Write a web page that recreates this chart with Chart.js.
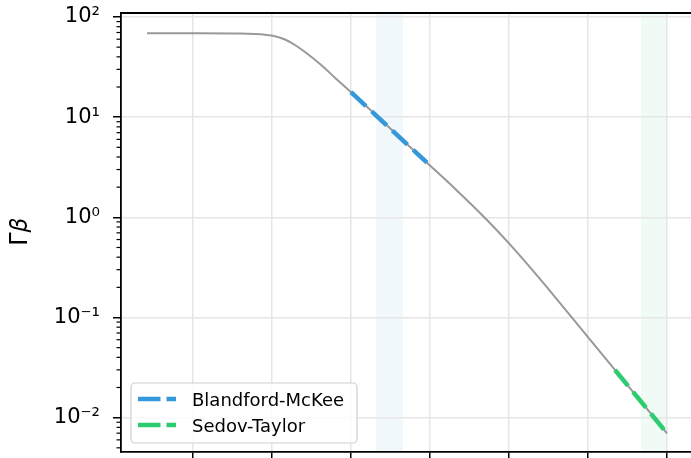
<!DOCTYPE html>
<html>
<head>
<meta charset="utf-8">
<script src="https://cdn.jsdelivr.net/npm/chart.js@4.4.0/dist/chart.umd.min.js"></script>
<style>
  html, body { margin: 0; padding: 0; background: #fff; overflow: hidden; }
</style>
</head>
<body>
<canvas id="gammaBetaChart" width="691" height="458"></canvas>
<script>
// Γβ 主曲线（横轴刻度标签在原图中被裁掉）
const curveX = [0.418, 1.089, 1.595, 1.785, 1.911, 2.038, 2.165, 2.291, 2.418, 2.608, 2.797, 3.0, 3.494, 3.962, 4.3, 4.7, 5.0, 5.3, 5.5, 6.0, 6.5, 7.0];
const curveY = [68.9, 68.9, 68.4, 67.5, 66.4, 64.3, 59.6, 52.5, 44.7, 33.9, 24.8, 17.8, 7.76, 3.51, 1.986, 0.979, 0.550, 0.296, 0.192, 0.0637, 0.0211, 0.00698];

// Blandford-McKee 段
const bmX = [3.0, 3.48, 3.962];
const bmY = [17.8, 7.9, 3.51];

// Sedov-Taylor 段
const stX = [6.342, 6.658, 6.962];
const stY = [0.0299, 0.0149, 0.00759];

// 阴影区间
const bmBand = [3.316, 3.658];
const stBand = [6.671, 6.987];

// 刻度
const xTicks = [1, 2, 3, 4, 5, 6, 7];
const yMajorTicks = [0.01, 0.1, 1, 10, 100];
const yTickLabels = ['10⁻²', '10⁻¹', '10⁰', '10¹', '10²'];
const legendLabels = ['Blandford-McKee', 'Sedov-Taylor'];

const toPoints = (xs, ys) => xs.map((x, i) => ({ x: x, y: ys[i] }));

Chart.defaults.font.family = 'DejaVu Sans';
Chart.defaults.color = '#000';

const decorPlugin = {
  id: 'decor',
  beforeDraw(chart) {
    const { ctx, chartArea: a, scales: { x } } = chart;
    ctx.save();
    ctx.fillStyle = '#fff';
    ctx.fillRect(0, 0, chart.width, chart.height);
    [[bmBand, 'rgba(52,152,219,0.07)'], [stBand, 'rgba(46,204,113,0.07)']].forEach(([b, c]) => {
      const x0 = x.getPixelForValue(b[0]);
      const x1 = x.getPixelForValue(b[1]);
      ctx.fillStyle = c;
      ctx.fillRect(x0, a.top, x1 - x0, a.bottom - a.top);
    });
    ctx.restore();
  },
  afterDraw(chart) {
    const { ctx, chartArea: a, scales: { y } } = chart;
    ctx.save();
    // 上边框
    ctx.strokeStyle = '#000';
    ctx.lineWidth = 1.8;
    ctx.beginPath();
    ctx.moveTo(a.left - 0.9, a.top);
    ctx.lineTo(a.right, a.top);
    ctx.stroke();

    // y 轴次刻度
    ctx.lineWidth = 1.2;
    [0.001].concat(yMajorTicks).forEach(m => {
      for (let k = 2; k <= 9; k++) {
        const v = k * m;
        if (v < y.min || v > y.max) continue;
        const py = y.getPixelForValue(v);
        ctx.beginPath();
        ctx.moveTo(a.left - 4.5, py);
        ctx.lineTo(a.left, py);
        ctx.stroke();
      }
    });

    // 图例
    const lx = a.left + 10, ly = a.bottom - 69, lw = 226, lh = 60;
    ctx.fillStyle = 'rgba(255,255,255,0.8)';
    ctx.strokeStyle = '#d0d0d0';
    ctx.lineWidth = 1.2;
    ctx.beginPath();
    ctx.roundRect(lx, ly, lw, lh, 4);
    ctx.fill();
    ctx.stroke();
    legendLabels.forEach((label, i) => {
      const ds = chart.data.datasets[i];
      const hy = ly + 16 + i * 26;
      ctx.strokeStyle = ds.borderColor;
      ctx.lineWidth = 4.5;
      ctx.setLineDash([22.5, 6]);
      ctx.beginPath();
      ctx.moveTo(lx + 7, hy);
      ctx.lineTo(lx + 45, hy);
      ctx.stroke();
      ctx.setLineDash([]);
      ctx.fillStyle = '#000';
      ctx.font = '18px "DejaVu Sans"';
      ctx.textBaseline = 'alphabetic';
      ctx.fillText(label, lx + 61, hy + 6.5);
    });
    ctx.restore();
  }
};

new Chart(document.getElementById('gammaBetaChart'), {
  type: 'line',
  data: {
    datasets: [
      {
        label: legendLabels[0],
        data: toPoints(bmX, bmY),
        borderColor: '#3498db',
        borderWidth: 4.5,
        borderDash: [20.5, 7.8],
        pointRadius: 0,
        fill: false
      },
      {
        label: legendLabels[1],
        data: toPoints(stX, stY),
        borderColor: '#2ecc71',
        borderWidth: 4.5,
        borderDash: [20.5, 7.8],
        pointRadius: 0,
        fill: false
      },
      {
        label: 'Γβ',
        data: toPoints(curveX, curveY),
        borderColor: 'rgba(128,128,128,0.8)',
        borderWidth: 2,
        cubicInterpolationMode: 'monotone',
        pointRadius: 0,
        fill: false
      }
    ]
  },
  options: {
    responsive: false,
    animation: false,
    events: [],
    layout: { padding: { top: 13, right: 0, bottom: 0, left: 0 } },
    plugins: {
      legend: { display: false },
      tooltip: { enabled: false }
    },
    scales: {
      x: {
        type: 'linear',
        min: 0.0886,
        max: 7.304,
        afterBuildTicks: s => { s.ticks = xTicks.map(v => ({ value: v })); },
        afterFit: s => { s.height = 6; s.paddingLeft = 0; s.paddingRight = 0; },
        ticks: { display: false },
        grid: { color: '#e6e6e6', lineWidth: 1.5, tickColor: '#000', tickLength: 7, tickWidth: 1.5 },
        border: { color: '#000', width: 1.8 }
      },
      y: {
        type: 'logarithmic',
        min: 0.00454,
        max: 109.6,
        afterBuildTicks: s => { s.ticks = yMajorTicks.map(v => ({ value: v, major: true })); },
        afterFit: s => { s.width = 121; s.paddingTop = 0; s.paddingBottom = 0; },
        ticks: {
          autoSkip: false,
          padding: 13,
          font: { size: 21 },
          callback: (v, i) => yTickLabels[i]
        },
        grid: { color: '#e6e6e6', lineWidth: 1.5, tickColor: '#000', tickLength: 8, tickWidth: 1.5 },
        border: { color: '#000', width: 1.8 },
        title: {
          display: true,
          text: 'Γ𝛽',
          font: { size: 24 },
          padding: { top: 6, bottom: 0 }
        }
      }
    }
  },
  plugins: [decorPlugin]
});
</script>
</body>
</html>
